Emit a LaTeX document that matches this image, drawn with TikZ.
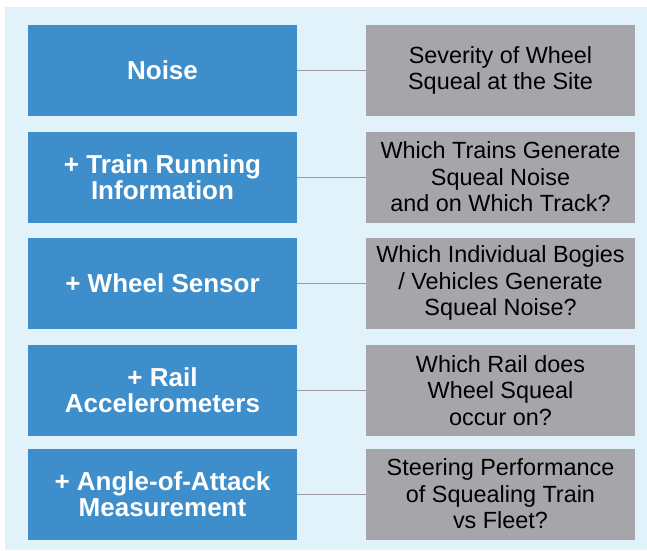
\documentclass[tikz,border=0pt]{standalone}
\usepackage{fontspec}
\setmainfont{Liberation Sans}
\usetikzlibrary{positioning}
\definecolor{panelblue}{HTML}{E1F2FA}
\definecolor{boxblue}{HTML}{3F8ECC}
\definecolor{boxgrey}{HTML}{A6A6AA}
\definecolor{linegrey}{HTML}{9C9CA0}
\tikzset{
	levelbox/.style={fill=boxblue, text=white, minimum width=269pt, minimum height=91pt, inner sep=0pt, align=center, font=\fontsize{26}{26}\selectfont\bfseries},
	answerbox/.style={fill=boxgrey, text=black, minimum width=269pt, minimum height=91pt, inner sep=0pt, align=center, font=\fontsize{23.4}{26.5}\selectfont},
	link/.style={draw=linegrey, line width=1pt}
}

\begin{document}
\begin{tikzpicture}[x=1pt, y=-1pt]
			%%%%% START %%%%%
			\useasboundingbox (0, 0) rectangle (647, 550);
			\fill[panelblue] (5, 7) rectangle (647, 550);
			
			% sensor levels, left column
			\node[levelbox] (noise) at (162.5, 70.5) {Noise};
			\node[levelbox] (train) at (162.5, 177) {+ Train Running\\Information};
			\node[levelbox] (wheel) at (162.5, 283) {+ Wheel Sensor};
			\node[levelbox] (rail) at (162.5, 390.5) {+ Rail\\Accelerometers};
			\node[levelbox] (aoa) at (162.5, 494) {+ Angle-of-Attack\\Measurement};
			
			% what each level tells us, right column
			\node[answerbox] (severity) at (500.5, 70.5) {Severity of Wheel\\Squeal at the Site};
			\node[answerbox] (track) at (500.5, 177) {Which Trains Generate\\Squeal Noise\\and on Which Track?};
			\node[answerbox] (bogies) at (500.5, 283) {Which Individual Bogies\\/ Vehicles Generate\\Squeal Noise?};
			\node[answerbox] (whichrail) at (500.5, 390.5) {Which Rail does\\Wheel Squeal\\occur on?};
			\node[answerbox] (fleet) at (500.5, 494) {Steering Performance\\of Squealing Train\\vs Fleet?};
			
			\draw[link] (noise) -- (severity);
			\draw[link] (train) -- (track);
			\draw[link] (wheel) -- (bogies);
			\draw[link] (rail) -- (whichrail);
			\draw[link] (aoa) -- (fleet);
			%%%%% END %%%%%
\end{tikzpicture}
\end{document}
